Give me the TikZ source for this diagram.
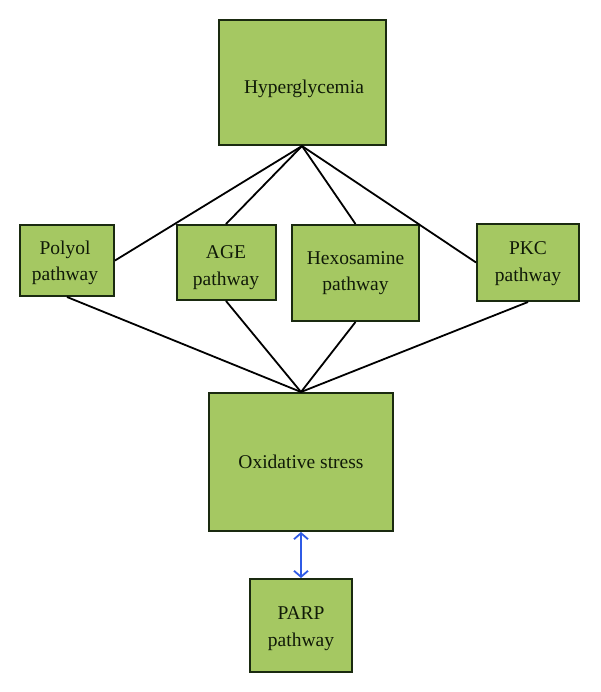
\documentclass[tikz,border=0pt]{standalone}
\usepackage{fontspec}
\setmainfont{Liberation Serif}
\usetikzlibrary{arrows.meta}
\definecolor{boxfill}{HTML}{A5C862}
\definecolor{boxline}{HTML}{1A2A10}
\definecolor{txt}{HTML}{101A08}
\definecolor{arrblue}{HTML}{2F5BE6}
\tikzset{
  box/.style={draw=boxline, fill=boxfill, line width=2pt, inner sep=0pt},
  lbl/.style={inner sep=0pt, align=center, text=txt, font=\fontsize{19.5}{26.5}\selectfont},
  link/.style={draw=black, line width=1.8pt},
  twoway/.style={draw=arrblue, line width=1.8pt,
    {Straight Barb[length=6pt,width=14pt]}-{Straight Barb[length=6pt,width=14pt]}}
}
\begin{document}
\begin{tikzpicture}[x=1pt,y=-1pt]
\useasboundingbox (0,0) rectangle (600,692);
\node[box, minimum width=167pt, minimum height=125pt] (hyp) at (302,82.5) {};
\node[box, minimum width=94pt, minimum height=71pt] (pol) at (67,260.5) {};
\node[box, minimum width=99pt, minimum height=75pt] (age) at (226,262.5) {};
\node[box, minimum width=127pt, minimum height=96pt] (hex) at (355.5,273) {};
\node[box, minimum width=102pt, minimum height=77pt] (pkc) at (528,262.5) {};
\node[box, minimum width=184pt, minimum height=138pt] (ox) at (301,462) {};
\node[box, minimum width=102pt, minimum height=93pt] (parp) at (301,625.5) {};
\node[lbl] (hypT) at ([shift={(2,6)}]hyp.center) {Hyperglycemia};
\node[lbl] (polT) at ([shift={(-2,2.5)}]pol.center) {Polyol\\pathway};
\node[lbl] (ageT) at ([shift={(0,5)}]age.center) {AGE\\pathway};
\node[lbl] (hexT) at (hex.center) {Hexosamine\\pathway};
\node[lbl] (pkcT) at ([shift={(0,1)}]pkc.center) {PKC\\pathway};
\node[lbl] (oxT) at (ox.center) {Oxidative stress};
\node[lbl] (parpT) at ([shift={(0,3)}]parp.center) {PARP\\pathway};
\draw[link] (hyp.south) -- (pol.east);
\draw[link] (hyp.south) -- (age.north);
\draw[link] (hyp.south) -- (hex.north);
\draw[link] (hyp.south) -- (pkc.west);
\draw[link] (pol.south) -- (ox.north);
\draw[link] (age.south) -- (ox.north);
\draw[link] (hex.south) -- (ox.north);
\draw[link] (pkc.south) -- (ox.north);
\draw[twoway] (ox.south) -- (parp.north);
\end{tikzpicture}
\end{document}
